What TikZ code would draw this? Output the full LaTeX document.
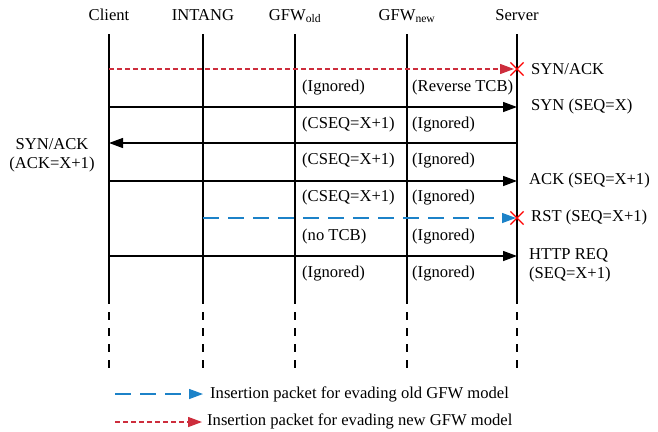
\documentclass[tikz,border=0pt]{standalone}
\usepackage{fontspec}
\setmainfont{Liberation Serif}
\usetikzlibrary{arrows.meta,calc,positioning,shapes.misc}

\definecolor{oldblue}{RGB}{28,130,200}
\definecolor{newred}{RGB}{205,45,60}

\begin{document}
\begin{tikzpicture}[x=1pt,y=-1pt,
font=\fontsize{16.6}{19}\selectfont,
lifeline/.style={line width=1.5pt},
tail/.style={line width=1.5pt, dash pattern=on 8pt off 8pt},
msg/.style={line width=1.3pt, -{Triangle[length=14pt,width=10pt]}},
oldmsg/.style={msg, color=oldblue, dash pattern=on 16pt off 9pt},
newmsg/.style={msg, color=newred, dash pattern=on 5pt off 3pt},
drop/.style={cross out, draw=red, line width=1.2pt, minimum size=12pt, inner sep=0pt},
state/.style={anchor=west, inner sep=0pt},
info/.style={anchor=west, inner sep=0pt, align=left}]

\useasboundingbox (0,0) rectangle (658,431);

%% local variables
\def \ytop {34}
\def \ybot {296}
\def \yend {368}
\def \xlab {531}

%% place all lifelines
\foreach \n/\x/\t in {C/109/Client, I/203/INTANG, O/295/{GFW\textsubscript{old}}, N/407/{GFW\textsubscript{new}}, S/517/Server} {
      \node[anchor=base] (H-\n) at (\x,20) {\t};
      \coordinate (T-\n) at (\x,\ytop);
      \coordinate (B-\n) at (\x,\ybot);
      \coordinate (E-\n) at (\x,\yend);
      \draw[lifeline] (T-\n) -- (B-\n);
      \draw[tail] (B-\n) -- (E-\n);
}

%% message rows on every lifeline
\foreach \r/\y in {1/69, 2/107, 3/143, 4/181, 5/218, 6/256}
      \foreach \n/\x in {C/109, I/203, O/295, N/407, S/517}
            \coordinate (\n-\r) at (\x,\y);

%% state of both GFW models
\foreach \y/\o/\w in {88/{(Ignored)}/{(Reverse TCB)}, 125/{(CSEQ=X+1)}/{(Ignored)}, 161/{(CSEQ=X+1)}/{(Ignored)}, 198/{(CSEQ=X+1)}/{(Ignored)}, 237/{(no TCB)}/{(Ignored)}, 274/{(Ignored)}/{(Ignored)}} {
      \node[state] (SO-\y) at (302,\y) {\o};
      \node[state] (SN-\y) at (412,\y) {\w};
}

%% packets
\draw[newmsg, shorten >=3pt] (C-1) -- (S-1);
\node[drop] (X-1) at (S-1) {};
\draw[msg] (C-2) -- (S-2);
\draw[msg] (S-3) -- (C-3);
\draw[msg] (C-4) -- (S-4);
\draw[oldmsg, shorten >=1pt] (I-5) -- (S-5);
\node[drop] (X-5) at (S-5) {};
\draw[msg] (C-6) -- (S-6);

%% packet labels
\node[info] (L-1) at (\xlab,69) {SYN/ACK};
\node[info] (L-2) at (\xlab,107) {SYN (SEQ=X)};
\node[align=center, inner sep=0pt] (L-3) at (52,155) {SYN/ACK\\(ACK=X+1)};
\node[info] (L-4) at (\xlab-2,181) {ACK (SEQ=X+1)};
\node[info] (L-5) at (\xlab,218) {RST (SEQ=X+1)};
\node[info] (L-6) at (\xlab-2,265) {HTTP REQ\\(SEQ=X+1)};

%% legend
\coordinate (LO-a) at (115,394);
\coordinate (LO-b) at (203,394);
\coordinate (LN-a) at (115,422);
\coordinate (LN-b) at (202,422);
\draw[oldmsg] (LO-a) -- (LO-b);
\draw[newmsg] (LN-a) -- (LN-b);
\node[info] (LO-t) at (210,394) {Insertion packet for evading old GFW model};
\node[info] (LN-t) at (207,421) {Insertion packet for evading new GFW model};

\end{tikzpicture}
\end{document}
